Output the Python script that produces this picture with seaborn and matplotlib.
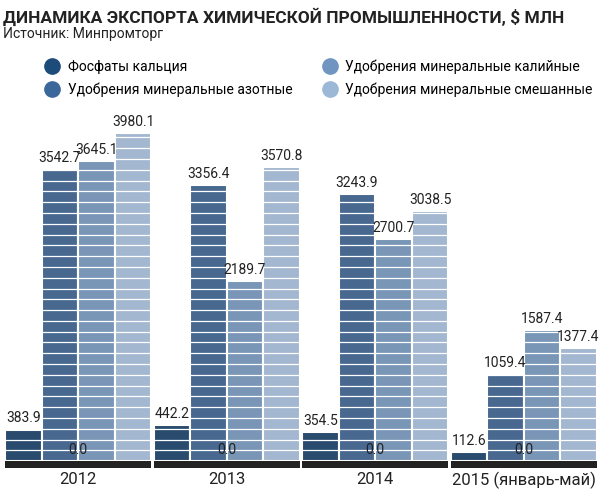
import matplotlib
matplotlib.use("Agg")
import matplotlib.pyplot as plt
import seaborn as sns
import pandas as pd
import numpy as np
from matplotlib.lines import Line2D

years = ["2012", "2013", "2014", "2015 (январь-май)"]
series = ["Фосфаты кальция", "Удобрения минеральные азотные",
          "Удобрения минеральные калийные", "Удобрения минеральные смешанные"]
fosfaty = [383.9, 442.2, 354.5, 112.6]
azotnye = [3542.7, 3356.4, 3243.9, 1059.4]
kaliynye = [3645.1, 2189.7, 2700.7, 1587.4]
smeshannye = [3980.1, 3570.8, 3038.5, 1377.4]
colors = ["#1d4b7a", "#3c679b", "#6f95c0", "#9bb8d7"]

rows = []
for s, vals in zip(series, [fosfaty, azotnye, kaliynye, smeshannye]):
    for y, v in zip(years, vals):
        rows.append({"year": y, "series": s, "value": v})
df = pd.DataFrame(rows)

plt.rcParams["font.family"] = "Roboto"
fig = plt.figure(figsize=(6, 4.92), dpi=100)
ax = fig.add_axes([4/600, 24/492, 594/600, 368/492])
sns.barplot(data=df, x="year", y="value", hue="series", hue_order=series,
            palette=colors, width=0.985, edgecolor="white", linewidth=1.5,
            ax=ax, legend=False)
ax.bar(range(len(years)), 83, bottom=-83, width=0.985, color="#222222", zorder=3)
for c in ax.containers:
    ax.bar_label(c, fmt="%.1f", padding=3, fontsize=10, color="#222222")
for yv in np.arange(131, 4100, 131):
    ax.axhline(yv, color="white", lw=0.9, zorder=2.5)
ax.set_xlim(-0.5, 3.5)
ax.set_ylim(-83, 4385)
ax.set_xlabel(""); ax.set_ylabel("")
ax.set_yticks([])
ax.tick_params(axis="x", length=0, labelsize=12, pad=3, colors="#222222")
for sp in ax.spines.values():
    sp.set_visible(False)

fig.text(0.005, 0.985, "ДИНАМИКА ЭКСПОРТА ХИМИЧЕСКОЙ ПРОМЫШЛЕННОСТИ, $ МЛН",
         fontsize=12.5, fontweight="bold", va="top", ha="left", color="#222222")
fig.text(0.005, 0.945, "Источник: Минпромторг", fontsize=10, va="top", ha="left", color="#222222")
handles = [Line2D([], [], marker="o", ls="", markersize=11, color=c) for c in colors]
fig.legend(handles, series, ncol=2, loc="upper left", bbox_to_anchor=(0.055, 0.905),
           frameon=False, fontsize=10, handletextpad=0.6, columnspacing=2.2,
           labelspacing=0.6, handlelength=1.0)
fig.savefig("out.png", dpi=100)
